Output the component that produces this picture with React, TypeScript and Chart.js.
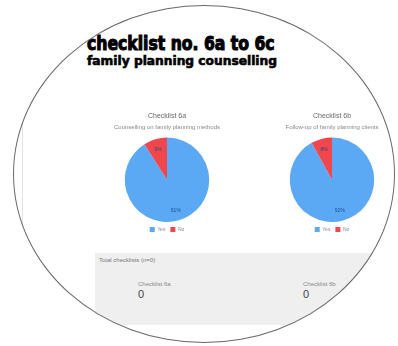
import React, { useEffect, useRef } from "react";
import { Chart, registerables } from "chart.js";

Chart.register(...registerables);

const pageTitle = "checklist no. 6a to 6c";
const pageSubtitle = "family planning counselling";

const categories = ["Yes", "No"];
const chartTitles = ["Checklist 6a", "Checklist 6b"];
const chartSubtitles = ["Counselling on family planning methods", "Follow-up of family planning clients"];
const seriesA = [91, 9];
const seriesB = [92, 8];
const sliceColors = ["#5ba8f5", "#f0464e"];

const panelTitle = "Total checklists (n=0)";
const panelLabels = ["Checklist 6a", "Checklist 6b"];
const panelValues = [0, 0];

const pctPlugin = {
  id: "pctLabels",
  afterDatasetsDraw(chart: any) {
    const ctx = chart.ctx;
    const meta = chart.getDatasetMeta(0);
    const data = chart.data.datasets[0].data as number[];
    const total = data.reduce((a, b) => a + b, 0);
    ctx.save();
    ctx.font = "5px 'Liberation Sans', Arial, sans-serif";
    ctx.fillStyle = "#1d4f8a";
    ctx.textAlign = "center";
    ctx.textBaseline = "middle";
    meta.data.forEach((arc: any, i: number) => {
      const p = arc.getProps(["x", "y", "startAngle", "endAngle", "outerRadius"], true);
      const mid = (p.startAngle + p.endAngle) / 2;
      const r = p.outerRadius * 0.75;
      ctx.fillText(
        Math.round((data[i] / total) * 100) + "%",
        p.x + Math.cos(mid) * r,
        p.y + Math.sin(mid) * r
      );
    });
    ctx.restore();
  },
};

function PieChart(props: { values: number[]; title: string; subtitle: string; left: number; top: number }) {
  const ref = useRef<HTMLCanvasElement>(null);
  useEffect(() => {
    if (!ref.current) return;
    const chart = new Chart(ref.current, {
      type: "pie",
      data: {
        labels: categories,
        datasets: [{ data: props.values, backgroundColor: sliceColors, borderWidth: 0 }],
      },
      options: {
        animation: false,
        responsive: false,
        layout: { padding: 0 },
        plugins: {
          title: {
            display: true,
            text: props.title,
            color: "#666",
            font: { size: 7, weight: "normal", family: "'Liberation Sans', Arial, sans-serif" },
            padding: { top: 2, bottom: 3 },
          },
          subtitle: {
            display: true,
            text: props.subtitle,
            color: "#888",
            font: { size: 6, family: "'Liberation Sans', Arial, sans-serif" },
            padding: { top: 0, bottom: 7 },
          },
          legend: {
            position: "bottom",
            labels: {
              boxWidth: 5,
              boxHeight: 5,
              padding: 5,
              color: "#888",
              font: { size: 5, family: "'Liberation Sans', Arial, sans-serif" },
            },
          },
          tooltip: { enabled: false },
        },
      },
      plugins: [pctPlugin],
    });
    return () => chart.destroy();
  }, []);
  return (
    <canvas
      ref={ref}
      width={140}
      height={132}
      style={{ position: "absolute", left: props.left, top: props.top, width: 140, height: 132 }}
    />
  );
}

export default function App() {
  const small = "'Liberation Sans', Arial, sans-serif";
  return (
    <div style={{ position: "fixed", left: 0, top: 0, width: 398, height: 346, background: "#fff", overflow: "hidden" }}>
      <div
        style={{
          position: "absolute",
          left: 0,
          top: 0,
          width: 398,
          height: 346,
          clipPath: "ellipse(191px 169px at 204px 174px)",
          background: "#fff",
        }}
      >
        <div style={{ position: "absolute", left: 22, top: 0, width: 1, height: 346, background: "#e2e2e2" }} />
        <div
          style={{
            position: "absolute",
            left: 87,
            top: 34,
            fontFamily: "'DejaVu Sans Condensed', 'DejaVu Sans', sans-serif",
            fontWeight: 900,
            fontSize: 19,
            lineHeight: "19px",
            color: "#000",
            WebkitTextStroke: "1px #000",
            whiteSpace: "nowrap",
            transform: "scaleX(0.915)",
            transformOrigin: "0 0",
          }}
        >
          {pageTitle}
        </div>
        <div
          style={{
            position: "absolute",
            left: 87,
            top: 54,
            fontFamily: "'DejaVu Sans Condensed', 'DejaVu Sans', sans-serif",
            fontWeight: 900,
            fontSize: 13,
            lineHeight: "14px",
            color: "#000",
            WebkitTextStroke: "0.6px #000",
            whiteSpace: "nowrap",
            transform: "scaleX(1.045)",
            transformOrigin: "0 0",
          }}
        >
          {pageSubtitle}
        </div>
        <PieChart values={seriesA} title={chartTitles[0]} subtitle={chartSubtitles[0]} left={97} top={110} />
        <PieChart values={seriesB} title={chartTitles[1]} subtitle={chartSubtitles[1]} left={262} top={110} />
        <div style={{ position: "absolute", left: 95, top: 253, width: 320, height: 72, background: "#efefef" }}>
          <div style={{ position: "absolute", left: 4, top: 4, fontFamily: small, fontSize: 6, color: "#777", whiteSpace: "nowrap" }}>
            {panelTitle}
          </div>
          {panelLabels.map((lab, i) => (
            <div key={lab} style={{ position: "absolute", left: 43 + i * 165, top: 27, fontFamily: small, whiteSpace: "nowrap" }}>
              <div style={{ fontSize: 6, color: "#888", lineHeight: "8px" }}>{lab}</div>
              <div style={{ fontSize: 11, color: "#444", lineHeight: "12px" }}>{panelValues[i]}</div>
            </div>
          ))}
        </div>
      </div>
      <div
        style={{
          position: "absolute",
          left: 13,
          top: 5,
          width: 382,
          height: 338,
          borderRadius: "50%",
          border: "1.5px solid #6a6a6a",
          boxSizing: "border-box",
        }}
      />
    </div>
  );
}
